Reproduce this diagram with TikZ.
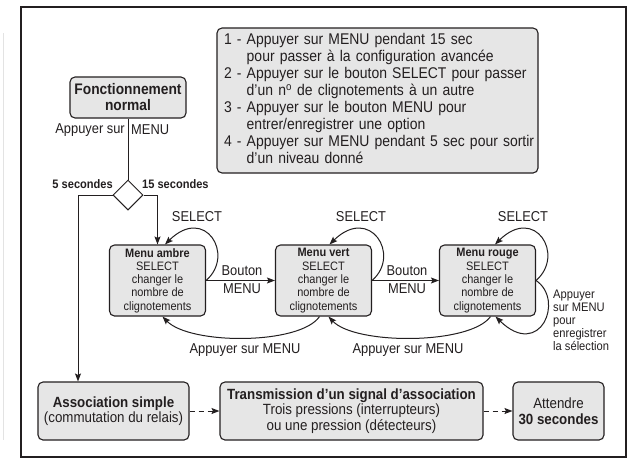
\documentclass[tikz,border=0pt]{standalone}
\usepackage{fontspec}
\setmainfont{Liberation Sans}[FakeStretch=0.9]
\usetikzlibrary{arrows.meta,shapes.geometric}
\definecolor{ink}{HTML}{231F20}
\definecolor{boxfill}{HTML}{E6E6E6}
\begin{document}
\begin{tikzpicture}[x=1pt,y=-1pt,
  box/.style={draw=ink, line width=1.1pt, fill=boxfill, rounded corners=5pt, align=center, inner sep=0pt, text=ink},
  menubox/.style={box, minimum width=96, minimum height=71, font=\fontsize{12.2}{13.3}\selectfont},
  lowbox/.style={box, minimum height=58, font=\fontsize{14.8}{15.6}\selectfont},
  conn/.style={draw=ink, line width=1pt},
  arr/.style={conn, -{Stealth[length=8pt,width=6pt,inset=1.5pt]}},
  darr/.style={arr, dash pattern=on 5pt off 4pt},
  lbl/.style={inner sep=0pt, text=ink, font=\fontsize{14.3}{15}\selectfont},
  small/.style={inner sep=0pt, text=ink, font=\fontsize{12.4}{13}\selectfont}]
\useasboundingbox (0,0) rectangle (629,459);
\fill[white] (0,0) rectangle (629,459);
\draw[gray!22, line width=0.8pt] (3,33) -- (3,440);
\draw[draw=ink, line width=2.6pt] (21,7) rectangle (626,457);

% instruction box
\node[box, minimum width=321, minimum height=145, text width=307, align=left,
      font=\fontsize{15.5}{17}\selectfont] (instr) at (377.5,100.5)
{\begin{tabular}{@{}l@{\ }l@{}}
1 - & Appuyer sur MENU pendant 15 sec\\
    & pour passer à la configuration avancée\\
2 - & Appuyer sur le bouton SELECT pour passer\\
    & d’un n\textsuperscript{o} de clignotements à un autre\\
3 - & Appuyer sur le bouton MENU pour\\
    & entrer/enregistrer une option\\
4 - & Appuyer sur MENU pendant 5 sec pour sortir\\
    & d’un niveau donné
\end{tabular}};

% top
\node[box, minimum width=116, minimum height=41, font=\bfseries\fontsize{15.3}{16}\selectfont] (fonc) at (128,97.5) {Fonctionnement\\normal};
\node[lbl, anchor=east] (appA) at (125,130) {Appuyer sur};
\node[lbl, anchor=west] (appB) at (131,130) {MENU};
\node[draw=ink, line width=1pt, diamond, minimum width=30, minimum height=30, inner sep=0pt, fill=white] (dia) at (128,195) {};
\node[small, font=\bfseries\fontsize{12.3}{13}\selectfont, anchor=east] (s5) at (113,184) {5 secondes};
\node[small, font=\bfseries\fontsize{12.3}{13}\selectfont, anchor=west] (s15) at (142,184) {15 secondes};

% menu boxes
\node[menubox] (ambre) at (157.5,280.5) {\textbf{Menu ambre}\\SELECT\\changer le\\nombre de\\clignotements};
\node[menubox] (vert) at (323.5,280.5) {\textbf{Menu vert}\\SELECT\\changer le\\nombre de\\clignotements};
\node[menubox] (rouge) at (487.5,280.5) {\textbf{Menu rouge}\\SELECT\\changer le\\nombre de\\clignotements};

% bottom boxes
\node[lowbox, minimum width=151] (assoc) at (113.5,411) {\textbf{Association simple}\\(commutation du relais)};
\node[lowbox, minimum width=263] (trans) at (351.5,411) {\textbf{Transmission d’un signal d’association}\\Trois pressions (interrupteurs)\\ou une pression (détecteurs)};
\node[lowbox, minimum width=91] (att) at (558.5,411) {Attendre\\\textbf{30 secondes}};

% labels
\node[lbl] (sel1) at (197,217) {SELECT};
\node[lbl] (sel2) at (361,217) {SELECT};
\node[lbl] (sel3) at (523,217) {SELECT};
\node[lbl] (b1) at (242,271) {Bouton};
\node[lbl] (m1) at (242,289) {MENU};
\node[lbl] (b2) at (407,271) {Bouton};
\node[lbl] (m2) at (407,289) {MENU};
\node[lbl] (ap1) at (245,350) {Appuyer sur MENU};
\node[lbl] (ap2) at (408,350) {Appuyer sur MENU};
\node[small, anchor=west, align=left] (save) at (553,320) {Appuyer\\sur MENU\\pour\\enregistrer\\la sélection};

% connectors
\draw[conn] (fonc.south) -- (dia.north);
\draw[arr] (dia.west) -| ([xshift=-35.5pt]assoc.north);
\draw[arr] (dia.east) -| (ambre.north);
\draw[arr] (ambre.east) -- (vert.west);
\draw[arr] (vert.east) -- (rouge.west);
\draw[arr] (ambre.east) .. controls (235.5,255) and (205,205) .. ([xshift=7.5pt]ambre.north);
\draw[arr] (vert.east) .. controls (401.5,255) and (370,205) .. ([xshift=6pt]vert.north);
\draw[arr] (rouge.east) .. controls (565.5,255) and (535,205) .. ([xshift=7.5pt]rouge.north);
\draw[arr] ([xshift=-4pt]vert.south) .. controls (300,345) and (190,345) .. ([xshift=5pt]ambre.south);
\draw[arr] ([xshift=3pt]rouge.south) .. controls (470,345) and (355,345) .. ([xshift=5pt]vert.south);
\draw[arr] (rouge.east) .. controls (565,300) and (540,360) .. ([xshift=8pt]rouge.south);
\draw[darr] (assoc.east) -- (trans.west);
\draw[darr] (trans.east) -- (att.west);
\end{tikzpicture}
\end{document}
